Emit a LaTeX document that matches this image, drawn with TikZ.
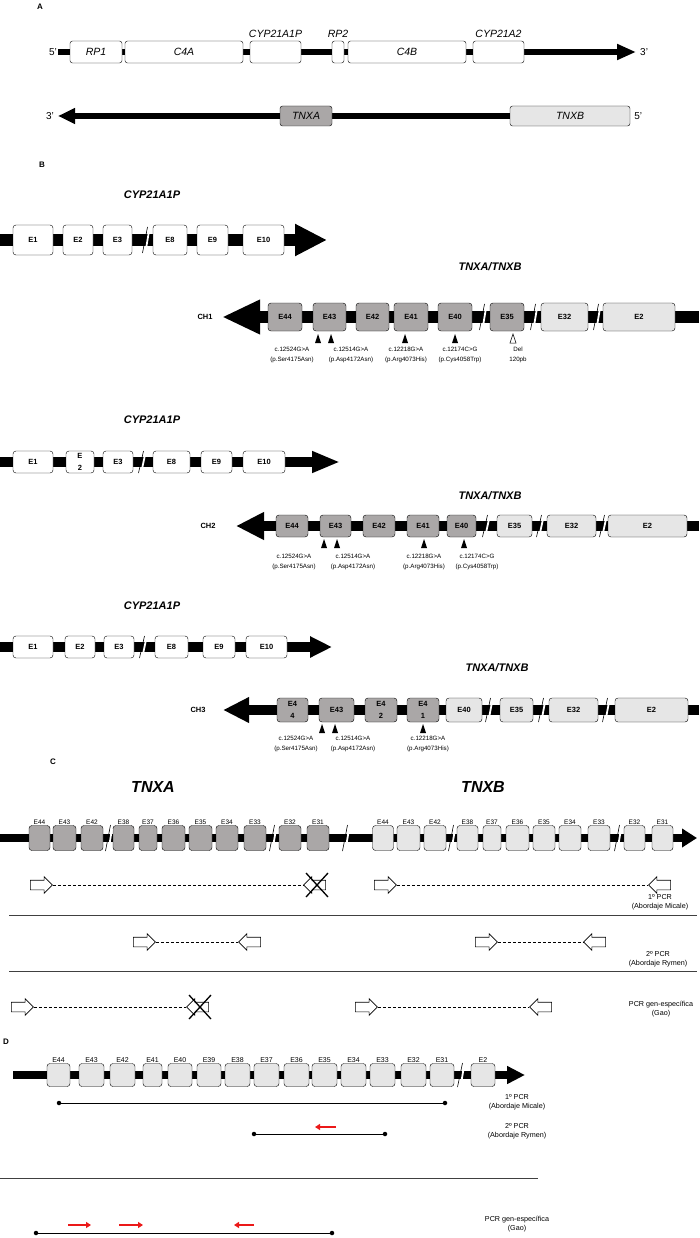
\documentclass[tikz,border=0pt]{standalone}
\usepackage{fontspec}
\setmainfont{Liberation Sans}
\usetikzlibrary{arrows.meta,shapes.arrows,positioning}
\definecolor{exA}{RGB}{170,167,167}
\definecolor{exB}{RGB}{230,230,230}
\definecolor{prRed}{RGB}{235,25,25}
\newcommand{\fsz}[2]{\fontsize{#1}{#2}\selectfont}
\begin{document}
\begin{tikzpicture}[x=1pt, y=-1pt,
  panel/.style={font=\bfseries\fsz{8}{9}},
  gene/.style={draw, fill=white, rounded corners=2.5, inner sep=0, minimum height=22, font=\itshape\fsz{10.5}{12}},
  genelbl/.style={font=\itshape\fsz{10.5}{12}},
  prime/.style={font=\fsz{10}{12}, inner sep=1},
  title/.style={font=\bfseries\itshape\fsz{11}{12}},
  bigtitle/.style={font=\bfseries\itshape\fsz{16}{18}},
  exon/.style={draw, rounded corners=3, inner sep=0, fill=white, align=center, font=\bfseries\fsz{7.5}{9}},
  exa/.style={exon, fill=exA},
  exb/.style={exon, fill=exB},
  split/.style={font=\bfseries\fsz{7.5}{12}},
  chr/.style={font=\bfseries\fsz{7.5}{9}},
  mut/.style={align=center, font=\fsz{6.2}{9.5}, inner sep=0},
  cut/.style={line width=0.6},
  primer/.style={single arrow, draw, fill=white, line width=0.6, inner xsep=0, inner ysep=4.5, minimum height=22, single arrow head extend=3.5},
  rprimer/.style={primer, shape border rotate=180},
  amp/.style={densely dashed, line width=0.5},
  nope/.style={line width=1.3},
  pcr/.style={align=center, font=\fsz{7.2}{9.5}, inner sep=0},
  sep/.style={line width=0.8, black!75},
  clbl/.style={font=\fsz{6.5}{7}, inner sep=1},
  dlbl/.style={font=\fsz{7}{8}, inner sep=1},
  dot/.style={circle, fill, inner sep=0, minimum size=4.5},
  span/.style={line width=1},
  redpr/.style={prRed, line width=1.8, -{Triangle[length=5pt,width=6pt]}}
]
\useasboundingbox (0,0) rectangle (699,1238);

% A
\node[panel] (pA) at (40,7) {A};
\coordinate (a1from) at (58,52);
\coordinate (a1to) at (636,52);
\draw[line width=6, -{Triangle[length=19pt,width=15pt]}] (a1from) -- (a1to);
\node[prime, anchor=east] (a1five) at (a1from) {5’};
\node[prime, anchor=west] (a1three) at ([xshift=3pt]a1to) {3’};
\foreach \c/\w/\t [count=\i] in {96/52/RP1, 184/118/C4A, 275.5/51/{}, 338/12/{}, 407/118/C4B, 498.5/51/{}}
  \node[gene, minimum width=\w] (g\i) at (\c,52) {\t};
\node[genelbl, above=0pt of g3] (g3l) {CYP21A1P};
\node[genelbl, above=0pt of g4] (g4l) {RP2};
\node[genelbl, above=0pt of g6] (g6l) {CYP21A2};

\coordinate (a2from) at (570,116);
\coordinate (a2to) at (58,116);
\draw[line width=6, -{Triangle[length=17pt,width=15pt]}] (a2from) -- (a2to);
\node[gene, fill=exA, minimum width=52, minimum height=20] (tnxa) at (306,116) {TNXA};
\node[gene, fill=exB, minimum width=120, minimum height=20] (tnxb) at (570,116) {TNXB};
\node[prime, anchor=east] (a2three) at ([xshift=-3pt]a2to) {3’};
\node[prime, anchor=west] (a2five) at ([xshift=3pt]tnxb.east) {5’};

% B
\node[panel] (pB) at (42,165) {B};
\node[title] (t1) at (152,195) {CYP21A1P};
\coordinate (c1from) at (0,240);
\coordinate (c1to) at (327,240);
\draw[line width=12, -{Triangle[length=32pt,width=30pt]}] (c1from) -- (c1to);
\foreach \c/\w/\t [count=\i] in {33/40/E1, 78/30/E2, 117.5/29/E3, 170/34/E8, 212.5/31/E9, 263.5/41/E10}
  \node[exon, minimum width=\w, minimum height=30] (c1x\i) at (\c,240) {\t};

\node[title] (t2) at (490,267) {TNXA/TNXB};
\node[chr] (ch1) at (205,317) {CH1};
\coordinate (h1from) at (699,317);
\coordinate (h1to) at (222,317);
\draw[line width=12, -{Triangle[length=38pt,width=32pt]}] (h1from) -- (h1to);
\foreach \c/\w/\t [count=\i] in {285/34/E44, 329.5/33/E43, 372.5/33/E42, 411/34/E41, 455/34/E40, 507/34/E35}
  \node[exa, minimum width=\w, minimum height=28] (h1x\i) at (\c,317) {\t};
\node[exb, minimum width=47, minimum height=28] (h1x7) at (564.5,317) {E32};
\node[exb, minimum width=72, minimum height=28] (h1x8) at (639,317) {E2};
\foreach \x in {318,331,405,455}
  \fill (\x,334) -- (\x+3,343) -- (\x-3,343) -- cycle;
\draw[fill=white, line width=0.5] (513,334) -- (516,343) -- (510,343) -- cycle;
\node[mut] (m11) at (292,355) {c.12524G>A\\(p.Ser4175Asn)};
\node[mut] (m12) at (351,355) {c.12514G>A\\(p.Asp4172Asn)};
\node[mut] (m13) at (406,355) {c.12218G>A\\(p.Arg4073His)};
\node[mut] (m14) at (460,355) {c.12174C>G\\(p.Cys4058Trp)};
\node[mut] (m15) at (518,355) {Del\\120pb};

\node[title] (t3) at (152,420) {CYP21A1P};
\coordinate (c2from) at (0,462);
\coordinate (c2to) at (340,462);
\draw[line width=10, -{Triangle[length=28pt,width=20pt]}] (c2from) -- (c2to);
\foreach \c/\w/\t [count=\i] in {33/40/E1, 80/28/{E\\2}, 118/30/E3, 171.5/37/E8, 216.5/31/E9, 264/42/E10}
  \node[exon, split, minimum width=\w, minimum height=22] (c2x\i) at (\c,462) {\t};

\node[title] (t4) at (490,496) {TNXA/TNXB};
\node[chr] (ch2) at (208,526) {CH2};
\coordinate (h2from) at (699,526);
\coordinate (h2to) at (236,526);
\draw[line width=10, -{Triangle[length=28pt,width=26pt]}] (h2from) -- (h2to);
\foreach \c/\w/\t [count=\i] in {292/32/E44, 335.5/31/E43, 379/32/E42, 423/32/E41, 461.5/29/E40}
  \node[exa, minimum width=\w, minimum height=22] (h2x\i) at (\c,526) {\t};
\foreach \c/\w/\t [count=\i from 6] in {514.5/35/E35, 571.5/49/E32, 647.5/79/E2}
  \node[exb, minimum width=\w, minimum height=22] (h2x\i) at (\c,526) {\t};
\foreach \x in {324,337,424,464}
  \fill (\x,539) -- (\x+3,548) -- (\x-3,548) -- cycle;
\node[mut] (m21) at (294,562) {c.12524G>A\\(p.Ser4175Asn)};
\node[mut] (m22) at (353,562) {c.12514G>A\\(p.Asp4172Asn)};
\node[mut] (m23) at (424,562) {c.12218G>A\\(p.Arg4073His)};
\node[mut] (m24) at (477,562) {c.12174C>G\\(p.Cys4058Trp)};

\node[title] (t5) at (152,606) {CYP21A1P};
\coordinate (c3from) at (0,647);
\coordinate (c3to) at (332,647);
\draw[line width=10, -{Triangle[length=22pt,width=20pt]}] (c3from) -- (c3to);
\foreach \c/\w/\t [count=\i] in {33/40/E1, 80/30/E2, 119/30/E3, 171.5/33/E8, 219/32/E9, 266.5/41/E10}
  \node[exon, minimum width=\w, minimum height=22] (c3x\i) at (\c,647) {\t};

\node[title] (t6) at (497,668) {TNXA/TNXB};
\node[chr] (ch3) at (198,710) {CH3};
\coordinate (h3from) at (699,710);
\coordinate (h3to) at (223,710);
\draw[line width=10, -{Triangle[length=26pt,width=24pt]}] (h3from) -- (h3to);
\foreach \c/\w/\t [count=\i] in {292.5/31/{E4\\4}, 336.5/35/E43, 381/32/{E4\\2}, 423/32/{E4\\1}}
  \node[exa, split, minimum width=\w, minimum height=24] (h3x\i) at (\c,710) {\t};
\foreach \c/\w/\t [count=\i from 5] in {464/36/E40, 516.5/33/E35, 573.5/49/E32, 651.5/73/E2}
  \node[exb, minimum width=\w, minimum height=24] (h3x\i) at (\c,710) {\t};
\foreach \x in {322,335,423}
  \fill (\x,724) -- (\x+3,733) -- (\x-3,733) -- cycle;
\node[mut] (m31) at (296,744) {c.12524G>A\\(p.Ser4175Asn)};
\node[mut] (m32) at (353,744) {c.12514G>A\\(p.Asp4172Asn)};
\node[mut] (m33) at (428,744) {c.12218G>A\\(p.Arg4073His)};

\foreach \x/\y/\h in {145/240/13, 141/462/11, 142/647/11, 482/317/13, 533/317/13, 596/317/13, 485/526/11, 539/526/11, 602/526/11, 488/710/12, 541/710/12, 605/710/12}
  {\draw[white, line width=1.8] (\x+1,\y+\h-4) -- (\x+4,\y-\h+4);
   \draw[cut] (\x-2.5,\y+\h) -- (\x+2.5,\y-\h);}

% C
\node[panel] (pC) at (53,762) {C};
\node[bigtitle] (tA) at (153,787) {TNXA};
\node[bigtitle] (tB) at (483,787) {TNXB};
\coordinate (cfrom) at (0,838);
\coordinate (cto) at (697,838);
\draw[line width=8, -{Triangle[length=15pt,width=18pt]}] (cfrom) -- (cto);
\foreach \c/\w/\t [count=\i] in {39.5/21/E44, 64.5/23/E43, 92/22/E42, 123.5/21/E38, 148/18/E37, 173.5/23/E36, 200.5/23/E35, 227/22/E34, 255/22/E33, 290/22/E32, 318/22/E31}
  \node[exa, minimum width=\w, minimum height=25, label={[clbl]above:\t}] (cax\i) at (\c,838) {};
\foreach \c/\w/\t [count=\i] in {383/21/E44, 408.5/23/E43, 435/22/E42, 467.5/21/E38, 492/18/E37, 517.5/23/E36, 544/22/E35, 570/22/E34, 599/22/E33, 634.5/21/E32, 662.5/21/E31}
  \node[exb, minimum width=\w, minimum height=25, label={[clbl]above:\t}] (cbx\i) at (\c,838) {};
\foreach \x in {108,272,345,451,617}
  {\draw[white, line width=1.8] (\x+1,838+9) -- (\x+4,838-9);
   \draw[cut] (\x-2.5,838+13) -- (\x+2.5,838-13);}

\node[primer] (p1a) at (39,885) {};
\node[rprimer] (p1b) at (317,885) {};
\node[primer] (p1c) at (383,885) {};
\node[rprimer] (p1d) at (662,885) {};
\draw[amp] (p1a) -- (p1b);
\draw[amp] (p1c) -- (p1d);
\draw[nope] ([shift={(-11,-12)}]p1b.center) -- ([shift={(11,12)}]p1b.center);
\draw[nope] ([shift={(-11,12)}]p1b.center) -- ([shift={(11,-12)}]p1b.center);
\node[pcr] (l1) at (660,902) {1º PCR\\(Abordaje Micale)};
\coordinate (s1from) at (9,915);
\coordinate (s1to) at (697,915);
\draw[sep] (s1from) -- (s1to);

\node[primer] (p2a) at (142,942) {};
\node[rprimer] (p2b) at (252,942) {};
\node[primer] (p2c) at (484,942) {};
\node[rprimer] (p2d) at (597,942) {};
\draw[amp] (p2a) -- (p2b);
\draw[amp] (p2c) -- (p2d);
\node[pcr] (l2) at (658,959) {2º PCR\\(Abordaje Rymen)};
\coordinate (s2from) at (9,971);
\coordinate (s2to) at (697,971);
\draw[sep] (s2from) -- (s2to);

\node[primer] (p3a) at (20,1007) {};
\node[rprimer] (p3b) at (200,1007) {};
\node[primer] (p3c) at (364,1007) {};
\node[rprimer] (p3d) at (543,1007) {};
\draw[amp] (p3a) -- (p3b);
\draw[amp] (p3c) -- (p3d);
\draw[nope] ([shift={(-11,-12)}]p3b.center) -- ([shift={(11,12)}]p3b.center);
\draw[nope] ([shift={(-11,12)}]p3b.center) -- ([shift={(11,-12)}]p3b.center);
\node[pcr] (l3) at (661,1009) {PCR gen-específica\\(Gao)};

% D
\node[panel] (pD) at (6,1042) {D};
\coordinate (dfrom) at (13,1075);
\coordinate (dto) at (525,1075);
\draw[line width=8, -{Triangle[length=18pt,width=17pt]}] (dfrom) -- (dto);
\foreach \c/\w/\t [count=\i] in {58.5/23/E44, 91.5/25/E43, 122.5/25/E42, 152.5/19/E41, 180/24/E40, 209/24/E39, 237.5/25/E38, 266.5/25/E37, 296.5/25/E36, 324.5/25/E35, 353.5/25/E34, 382.5/25/E33, 413.5/25/E32, 442/24/E31, 483/24/E2}
  \node[exb, minimum width=\w, minimum height=23, label={[dlbl]above:\t}] (dx\i) at (\c,1075) {};
\draw[white, line width=1.8] (461,1084) -- (464,1066);
\draw[cut] (457.5,1087) -- (462.5,1063);

\node[dot] (d1a) at (59,1103) {};
\node[dot] (d1b) at (445,1103) {};
\draw[span] (d1a) -- (d1b);
\node[pcr] (ld1) at (517,1102) {1º PCR\\(Abordaje Micale)};

\node[dot] (d2a) at (254,1134) {};
\node[dot] (d2b) at (385,1134) {};
\draw[span] (d2a) -- (d2b);
\coordinate (r1from) at (336,1127);
\coordinate (r1to) at (315,1127);
\draw[redpr] (r1from) -- (r1to);
\node[pcr] (ld2) at (517,1131) {2º PCR\\(Abordaje Rymen)};

\coordinate (s3from) at (0,1178);
\coordinate (s3to) at (538,1178);
\draw[sep] (s3from) -- (s3to);

\node[dot] (d3a) at (36,1233) {};
\node[dot] (d3b) at (332,1233) {};
\draw[span] (d3a) -- (d3b);
\coordinate (r2from) at (68,1225);
\coordinate (r2to) at (91,1225);
\coordinate (r3from) at (119,1225);
\coordinate (r3to) at (143,1225);
\coordinate (r4from) at (254,1225);
\coordinate (r4to) at (234,1225);
\draw[redpr] (r2from) -- (r2to);
\draw[redpr] (r3from) -- (r3to);
\draw[redpr] (r4from) -- (r4to);
\node[pcr] (ld3) at (517,1224) {PCR gen-específica\\(Gao)};
\end{tikzpicture}
\end{document}
